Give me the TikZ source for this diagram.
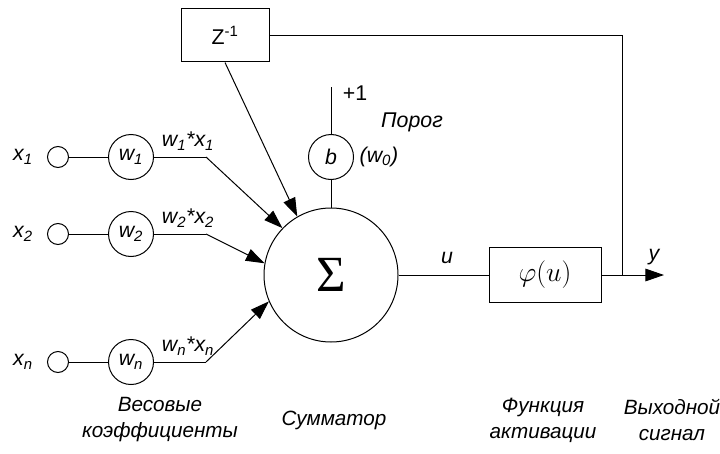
\documentclass[tikz,border=0pt]{standalone}
\usepackage{fontspec}
\setmainfont{Liberation Sans}
\newfontfamily\serifgreek{Liberation Serif}
\usetikzlibrary{arrows.meta}

\begin{document}
\begin{tikzpicture}[
        x=0.75pt, y=-0.75pt, line width=0.75pt,
        >={Triangle[length=14pt, width=9.5pt]},
        every node/.style={font=\fontsize{16}{19}\selectfont\itshape},
        upright/.style={font=\fontsize{16}{19}\selectfont},
        input/.style={circle, draw, minimum size=15.75pt, inner sep=0pt},
        weight/.style={circle, draw, minimum size=33.75pt, inner sep=0pt},
        block/.style={draw, rectangle, inner sep=0pt},
        caption/.style={align=center, font=\fontsize{15.5}{19.5}\selectfont\itshape}
    ]
    \useasboundingbox (0,0) rectangle (720,453);
    \node[circle, draw, minimum size=100.5pt, inner sep=0pt] (sum) at (331,275)
        {\serifgreek\upshape\fontsize{38}{38}\selectfont Σ};
    % inputs, weights and weighted sums
    \foreach \i/\y/\a in {1/157/136, 2/234/170, n/362/203} {
        \node (x\i) at (23,\y) {x\textsubscript{\i}};
        \node[input] (in\i) at (58,\y) {};
        \node[weight] (w\i) at (131,\y) {w\textsubscript{\i}};
        \node (p\i) at (188,\y-16) {w\textsubscript{\i}*x\textsubscript{\i}};
        \coordinate (k\i) at (206,\y);
        \draw (in\i) -- (w\i) -- (k\i);
        \draw[->] (k\i) -- (sum.\a);
    }
    % bias
    \coordinate (one) at (331,87);
    \node[weight] (b) at (331,157) {b};
    \draw (one) -- (b) -- (sum);
    \node[upright] (plus) at (355,93) {+1};
    \node (w0) at (379,157) {(w\textsubscript{0})};
    \node (thr) at (412,122) {Порог};
    % delay and activation
    \node[block, upright, minimum width=66pt, minimum height=39.75pt] (z) at (225,35.5)
        {Z\textsuperscript{-1}};
    \draw[->] (z.south) -- (sum.120);
    \node[block, minimum width=84pt, minimum height=41.25pt] (phi) at (545,275)
        {\fontsize{20}{20}\selectfont$\varphi(u)$};
    \coordinate (fork) at (622,275);
    \coordinate (out) at (664,275);
    \draw (sum) -- (phi);
    \draw[->] (phi) -- (out);
    \draw (z.east) -- (z.east -| fork) -- (fork);
    \node (u) at (447,258) {u};
    \node (y) at (654,257) {y};
    % captions
    \node[caption] (cw) at (160,420) {Весовые\\коэффициенты};
    \node[caption] (cs) at (334,420) {Сумматор};
    \node[caption] (cf) at (543,420) {Функция\\активации};
    \node[caption] (co) at (672,420) {Выходной\\сигнал};
\end{tikzpicture}
\end{document}
